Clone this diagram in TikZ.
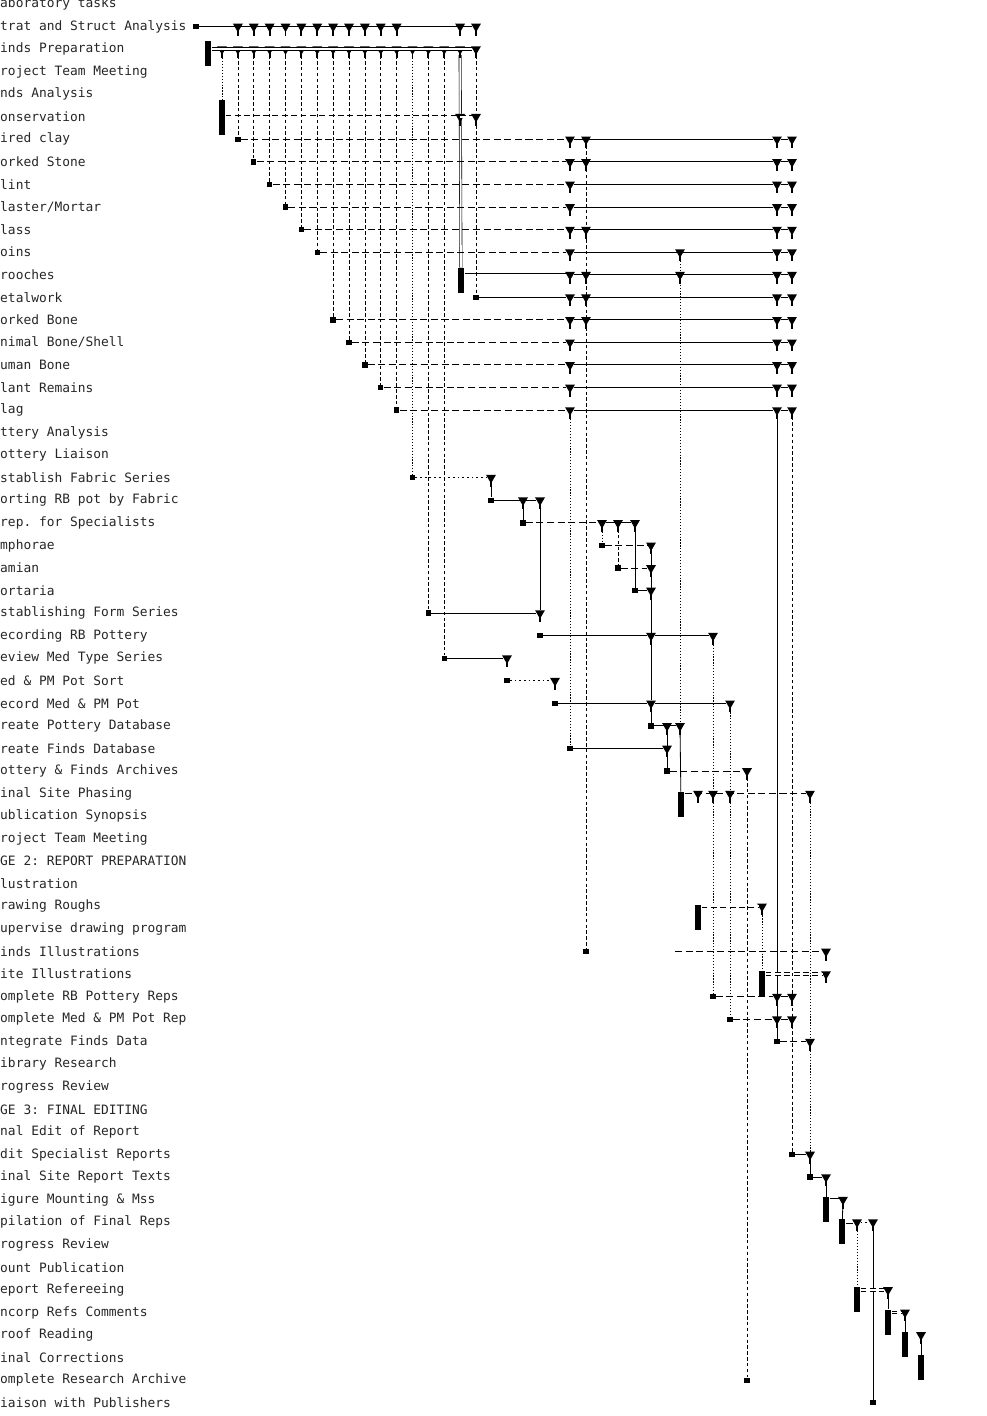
\documentclass[tikz,border=0pt]{standalone}
\usepackage{fontspec}
\setmonofont{DejaVu Sans Mono}
\usepackage{tikz}
\usetikzlibrary{shapes.geometric, positioning, calc, backgrounds}

\begin{document}
\begin{tikzpicture}[x=0.03cm, y=-0.03cm,
        declare function={ry(\n)=4+22.56*\n; gx(\k)=222+15.875*\k;},
        lbl/.style={anchor=west, inner sep=0pt, font=\ttfamily\fontsize{11}{12}\selectfont, text=black!85},
        sq/.style={rectangle, fill=black, inner sep=0pt, minimum size=0.16cm},
        bar/.style={rectangle, fill=black, inner sep=0pt, minimum width=0.2cm, minimum height=0.75cm, anchor=north},
        stem/.style={line width=1.6pt},
        endmark/.style={regular polygon, regular polygon sides=3, shape border rotate=180, fill=black, inner sep=0pt, minimum size=0.34cm,
            append after command={(\tikzlastnode.center) edge[stem] ([yshift=-0.27cm]\tikzlastnode.center)}},
        tline/.style={line width=0.8pt},
        tdash/.style={line width=0.8pt, dash pattern=on 6pt off 3pt},
        tdot/.style={line width=0.8pt, dash pattern=on 1.5pt off 2.5pt},
        tdbl/.style={double, double distance=1.6pt, line width=0.6pt},
        tdbldash/.style={tdbl, dash pattern=on 5pt off 3pt},
        vline/.style={line width=0.7pt},
        vdash/.style={line width=0.6pt, dash pattern=on 3pt off 2pt},
        vdot/.style={line width=0.7pt, dash pattern=on 1pt off 1.5pt},
        vdbl/.style={double, double distance=1.5pt, line width=0.5pt}]

        \useasboundingbox (0,0) rectangle (987,1416);

        \foreach \t [count=\i from 0] in {aboratory tasks, trat and Struct Analysis, inds Preparation, roject Team Meeting, nds Analysis, onservation, ired clay, orked Stone, lint, laster/Mortar, lass, oins, rooches, etalwork, orked Bone, nimal Bone/Shell, uman Bone, lant Remains, lag, ttery Analysis, ottery Liaison, stablish Fabric Series, orting RB pot by Fabric, rep. for Specialists, mphorae, amian, ortaria, stablishing Form Series, ecording RB Pottery, eview Med Type Series, ed \& PM Pot Sort, ecord Med \& PM Pot, reate Pottery Database, reate Finds Database, ottery \& Finds Archives, inal Site Phasing, ublication Synopsis, roject Team Meeting, GE 2: REPORT PREPARATION, lustration, rawing Roughs, upervise drawing program, inds Illustrations, ite Illustrations, omplete RB Pottery Reps, omplete Med \& PM Pot Rep, ntegrate Finds Data, ibrary Research, rogress Review, GE 3: FINAL EDITING, nal Edit of Report, dit Specialist Reports, inal Site Report Texts, igure Mounting \& Mss, pilation of Final Reps, rogress Review, ount Publication, eport Refereeing, ncorp Refs Comments, roof Reading, inal Corrections, omplete Research Archive, iaison with Publishers}
            \node[lbl] (lab\i) at (0,{ry(\i)}) {\t};

        \node[sq] (sq1) at (196,{ry(1)}) {};
        \foreach \k in {1,...,11,15,16}
            \node[endmark] (t\k) at ({gx(\k)},{ry(1)}) {};
        \draw[tline] (sq1) -- (t16);

        \node[bar] (bar2) at (208,{ry(2)-8}) {};
        \foreach \k in {0,...,16}
            \node[endmark] (u\k) at ({gx(\k)},{ry(2)}) {};
        \draw[tdbl] (bar2.east |- u0) -- (u16);

        \node[bar, minimum height=1.05cm] (bar5) at (222,{ry(5)-17}) {};
        \node[endmark] (v15) at ({gx(15)},{ry(5)}) {};
        \node[endmark] (v16) at ({gx(16)},{ry(5)}) {};
        \draw[tdbldash] (bar5.east |- v15) -- (v16);
        \draw[vdot] (u0) -- (bar5);

        \foreach \r/\k in {6/1,7/2,8/3,9/4,10/5,11/6,14/7,15/8,16/9,17/10,18/11}{
            \node[sq] (sq\r) at ({gx(\k)},{ry(\r)}) {};
            \node[endmark] (ma\r) at (570,{ry(\r)}) {};
            \node[endmark] (mc\r) at (777,{ry(\r)}) {};
            \node[endmark] (md\r) at (792,{ry(\r)}) {};
            \draw[vdash] (u\k) -- (sq\r);
            \draw[tdash] (sq\r) -- (ma\r);
            \draw[tline] (ma\r) -- (mc\r) -- (md\r);
        }

        \node[bar] (bar12) at (461,{ry(12)-7}) {};
        \node[endmark] (ma12) at (570,{ry(12)}) {};
        \node[endmark] (mc12) at (777,{ry(12)}) {};
        \node[endmark] (md12) at (792,{ry(12)}) {};
        \draw[tdbl] (bar12.east |- ma12) -- (ma12);
        \draw[tline] (ma12) -- (mc12) -- (md12);

        \node[sq] (sq13) at ({gx(16)},{ry(13)}) {};
        \node[endmark] (ma13) at (570,{ry(13)}) {};
        \node[endmark] (mc13) at (777,{ry(13)}) {};
        \node[endmark] (md13) at (792,{ry(13)}) {};
        \draw[vdash] (u16) -- (sq13);
        \draw[tline] (sq13) -- (ma13) -- (mc13) -- (md13);

        \foreach \r in {6,7,10,12,13,14}
            \node[endmark] (mb\r) at (586,{ry(\r)}) {};
        \foreach \r in {11,12}
            \node[endmark] (me\r) at (680,{ry(\r)}) {};

        \node[sq] (sq21) at ({gx(12)},{ry(21)}) {};
        \node[endmark] (n21) at (491,{ry(21)}) {};
        \draw[vdot] (u12) -- (sq21);
        \draw[tdot] (sq21) -- (n21);

        \node[sq] (sq22) at (491,{ry(22)}) {};
        \node[endmark] (n22a) at (523,{ry(22)}) {};
        \node[endmark] (n22b) at (540,{ry(22)}) {};
        \draw[vline] (n21) -- (sq22);
        \draw[tline] (sq22) -- (n22b);

        \node[sq] (sq23) at (523,{ry(23)}) {};
        \node[endmark] (n23a) at (602,{ry(23)}) {};
        \node[endmark] (n23b) at (618,{ry(23)}) {};
        \node[endmark] (n23c) at (635,{ry(23)}) {};
        \draw[vline] (n22a) -- (sq23);
        \draw[tdash] (sq23) -- (n23a);
        \draw[tline] (n23a) -- (n23c);

        \node[sq] (sq24) at (602,{ry(24)}) {};
        \node[endmark] (n24) at (651,{ry(24)}) {};
        \node[sq] (sq25) at (618,{ry(25)}) {};
        \node[endmark] (n25) at (651,{ry(25)}) {};
        \node[sq] (sq26) at (635,{ry(26)}) {};
        \node[endmark] (n26) at (651,{ry(26)}) {};
        \draw[vdot] (n23a) -- (sq24);
        \draw[vdash] (n23b) -- (sq25);
        \draw[vline] (n23c) -- (sq26);
        \draw[tdash] (sq24) -- (n24);
        \draw[tdash] (sq25) -- (n25);
        \draw[tline] (sq26) -- (n26);

        \node[sq] (sq27) at ({gx(13)},{ry(27)}) {};
        \node[endmark] (n27) at (540,{ry(27)}) {};
        \draw[vdash] (u13) -- (sq27);
        \draw[tline] (sq27) -- (n27);
        \draw[vline] (n22b) -- (n27);

        \node[sq] (sq28) at (540,{ry(28)}) {};
        \node[endmark] (n28a) at (651,{ry(28)}) {};
        \node[endmark] (n28b) at (713,{ry(28)}) {};
        \draw[tline] (sq28) -- (n28a) -- (n28b);

        \node[sq] (sq29) at ({gx(14)},{ry(29)}) {};
        \node[endmark] (n29) at (507,{ry(29)}) {};
        \draw[vdash] (u14) -- (sq29);
        \draw[tline] (sq29) -- (n29);

        \node[sq] (sq30) at (507,{ry(30)}) {};
        \node[endmark] (n30) at (555,{ry(30)}) {};
        \draw[tdot] (sq30) -- (n30);

        \node[sq] (sq31) at (555,{ry(31)}) {};
        \node[endmark] (n31a) at (651,{ry(31)}) {};
        \node[endmark] (n31b) at (730,{ry(31)}) {};
        \draw[tline] (sq31) -- (n31a) -- (n31b);
        \draw[vline] (n24) -- (n31a);

        \node[sq] (sq32) at (651,{ry(32)}) {};
        \node[endmark] (n32a) at (667,{ry(32)}) {};
        \node[endmark] (n32b) at (680,{ry(32)}) {};
        \draw[vline] (n31a) -- (sq32);
        \draw[tline] (sq32) -- (n32b);

        \node[sq] (sq33) at (570,{ry(33)}) {};
        \node[endmark] (n33) at (667,{ry(33)}) {};
        \draw[tline] (sq33) -- (n33);

        \node[sq] (sq34) at (667,{ry(34)}) {};
        \node[endmark] (n34) at (747,{ry(34)}) {};
        \draw[vline] (n32a) -- (sq34);
        \draw[tdash] (sq34) -- (n34);

        \node[bar] (bar35) at (681,{ry(35)-2}) {};
        \node[endmark] (n35a) at (698,{ry(35)}) {};
        \node[endmark] (n35b) at (713,{ry(35)}) {};
        \node[endmark] (n35c) at (730,{ry(35)}) {};
        \node[endmark] (n35d) at (810,{ry(35)}) {};
        \draw[tdash] (bar35.east |- n35a) -- (n35d);

        \node[bar] (bar40) at (698,{ry(40)-2}) {};
        \node[endmark] (n40) at (762,{ry(40)}) {};
        \draw[tdbldash] (bar40.east |- n40) -- (n40);

        \node[sq] (sq42) at (586,{ry(42)}) {};
        \coordinate (c42) at (675,{ry(42)});
        \node[endmark] (n42) at (826,{ry(42)}) {};
        \draw[tdash] (c42) -- (n42);

        \node[bar] (bar43) at (762,{ry(43)-3}) {};
        \node[endmark] (n43) at (826,{ry(43)}) {};
        \draw[tdbldash] (bar43.east |- n43) -- (n43);

        \node[sq] (sq44) at (713,{ry(44)}) {};
        \node[endmark] (n44a) at (777,{ry(44)}) {};
        \node[endmark] (n44b) at (792,{ry(44)}) {};
        \draw[tdash] (sq44) -- (n44a) -- (n44b);

        \node[sq] (sq45) at (730,{ry(45)}) {};
        \node[endmark] (n45a) at (777,{ry(45)}) {};
        \node[endmark] (n45b) at (792,{ry(45)}) {};
        \draw[tdash] (sq45) -- (n45a) -- (n45b);

        \node[sq] (sq46) at (777,{ry(46)}) {};
        \node[endmark] (n46) at (810,{ry(46)}) {};
        \draw[tdash] (sq46) -- (n46);

        \node[sq] (sq51) at (792,{ry(51)}) {};
        \node[endmark] (n51) at (810,{ry(51)}) {};
        \draw[tline] (sq51) -- (n51);

        \node[sq] (sq52) at (810,{ry(52)}) {};
        \node[endmark] (n52) at (826,{ry(52)}) {};
        \draw[tline] (sq52) -- (n52);

        \node[bar] (bar53) at (826,{ry(53)-3}) {};
        \node[endmark] (n53) at (843,{ry(53)}) {};
        \draw[tdbl] (bar53.east |- n53) -- (n53);

        \node[bar] (bar54) at (842,{ry(54)-3}) {};
        \node[endmark] (n54a) at (857,{ry(54)}) {};
        \node[endmark] (n54b) at (873,{ry(54)}) {};
        \draw[tdbl] (bar54.east |- n54a) -- (n54a);
        \draw[tdot] (n54a) -- (n54b);

        \node[bar] (bar57) at (857,{ry(57)-3}) {};
        \node[endmark] (n57) at (888,{ry(57)}) {};
        \draw[tdbldash] (bar57.east |- n57) -- (n57);

        \node[bar] (bar58) at (888,{ry(58)-3}) {};
        \node[endmark] (n58) at (905,{ry(58)}) {};
        \draw[tdbldash] (bar58.east |- n58) -- (n58);

        \node[bar] (bar59) at (905,{ry(59)-3}) {};
        \node[endmark] (n59) at (921,{ry(59)}) {};

        \node[bar] (bar60) at (921,{ry(60)-3}) {};
        \node[sq] (sq61) at (747,{ry(61)}) {};
        \node[sq] (sq62) at (873,{ry(62)}) {};

        \begin{scope}[on background layer]
            \draw[vdbl] (u15) -- (bar12);
            \draw[vdash] (mb6) -- (sq42);
            \draw[vdot] (ma18) -- (sq33);
            \draw[vdot] (me11) -- (n32b);
            \draw[vline] (n32b) -- (bar35);
            \draw[vline] (mc18) -- (sq46);
            \draw[vdash] (md18) -- (sq51);
            \draw[vdot] (n28b) -- (n35b);
            \draw[vdot] (n31b) -- (n35c);
            \draw[vdash] (n34) -- (sq61);
            \draw[vdbl] (n35a) -- (bar40);
            \draw[vdot] (n35b) -- (sq44);
            \draw[vdot] (n35c) -- (sq45);
            \draw[vdot] (n35d) -- (n46);
            \draw[vdot] (n40) -- (bar43);
            \draw[vdbl] (n42) -- (n52);
            \draw[vdot] (n46) -- (n51);
            \draw[vline] (n51) -- (sq52);
            \draw[vline] (n52) -- (bar53);
            \draw[vline] (n53) -- (bar54);
            \draw[vdot] (n54a) -- (bar57);
            \draw[vline] (n54b) -- (sq62);
            \draw[vline] (n57) -- (bar58);
            \draw[vline] (n58) -- (bar59);
            \draw[vline] (n59) -- (bar60);
        \end{scope}
    \end{tikzpicture}
\end{document}
